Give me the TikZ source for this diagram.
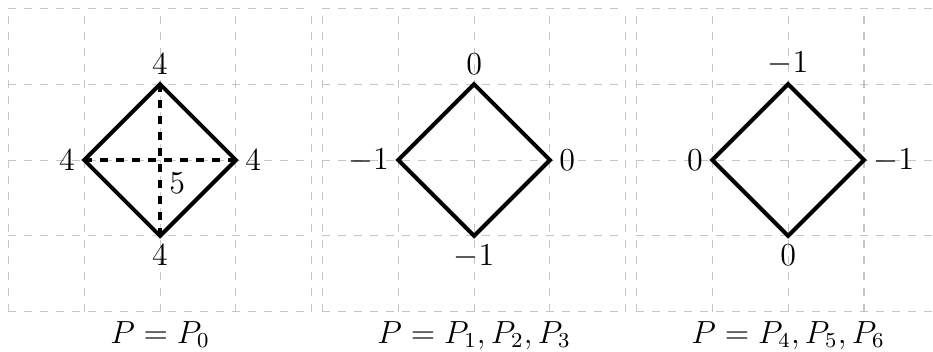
\documentclass[tikz,border=0pt]{standalone}
\usetikzlibrary{positioning}

\begin{document}
\begin{tikzpicture}[font=\large,
    grid line/.style={gray!45, dashed, thin},
    face/.style={line width=1.5pt, line join=miter},
    diag/.style={line width=1.5pt, dashed}]
  \useasboundingbox (-2.11,-2.52) rectangle (10.19,2.11);
  \foreach \k/\labN/\labW/\labE/\labS/\labC in {
      0/4/4/4/4/{$P=P_0$},
      1/0/-1/0/-1/{$P=P_1,P_2,P_3$},
      2/-1/0/-1/0/{$P=P_4,P_5,P_6$}} {
    \begin{scope}[xshift=\k*4.14cm]
      \draw[grid line] (-2,-2) grid (2,2);
      \coordinate (c\k) at (0,0);
      \coordinate (n\k) at (0,1);
      \coordinate (e\k) at (1,0);
      \coordinate (s\k) at (0,-1);
      \coordinate (w\k) at (-1,0);
      \draw[face] (n\k) -- (e\k) -- (s\k) -- (w\k) -- cycle;
      \node[above] (ln\k) at (n\k) {$\labN$};
      \node[left] (lw\k) at (w\k) {$\labW$};
      \node[right] (le\k) at (e\k) {$\labE$};
      \node[below] (ls\k) at (s\k) {$\labS$};
      \node[below] (cap\k) at (0,-2) {\labC};
    \end{scope}
  }
  % diagonals of the first square
  \draw[diag] (n0) -- (s0);
  \draw[diag] (w0) -- (e0);
  \node[below right=0.04cm and 0cm of c0] (mid0) {$5$};
\end{tikzpicture}
\end{document}
